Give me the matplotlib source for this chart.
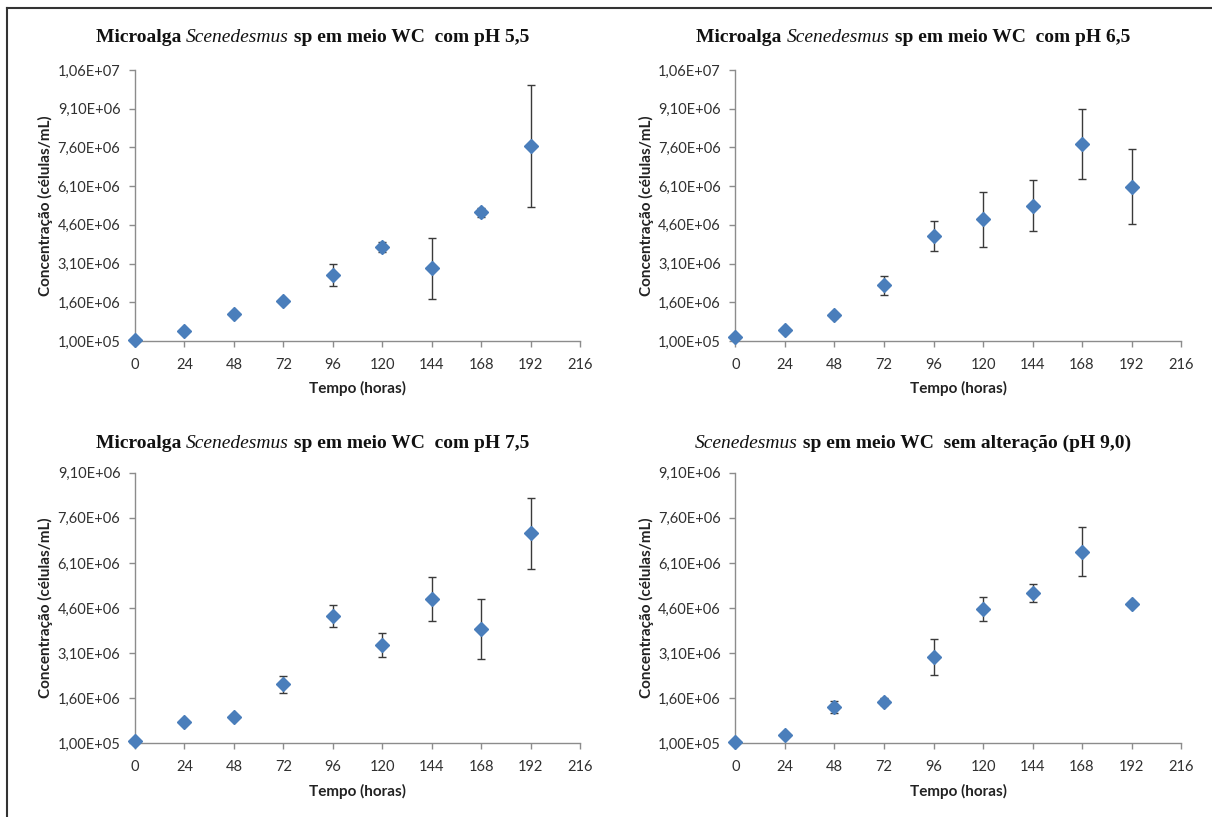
import matplotlib
matplotlib.use("Agg")
import matplotlib.pyplot as plt
from matplotlib.lines import Line2D
from matplotlib.ticker import FuncFormatter
import numpy as np

# ---------------- data ----------------
hours = [0, 24, 48, 72, 96, 120, 144, 168, 192]
x_ticks = [0, 24, 48, 72, 96, 120, 144, 168, 192, 216]

ph55_mean = [1.2e5, 4.75e5, 1.16e6, 1.65e6, 2.65e6, 3.75e6, 2.91e6, 5.08e6, 7.66e6]
ph55_err = [0.03e6, 0.05e6, 0.06e6, 0.08e6, 0.42e6, 0.20e6, 1.18e6, 0.16e6, 2.37e6]

ph65_mean = [2.55e5, 5.4e5, 1.10e6, 2.26e6, 4.17e6, 4.81e6, 5.35e6, 7.73e6, 6.07e6]
ph65_err = [0.05e6, 0.06e6, 0.10e6, 0.36e6, 0.57e6, 1.08e6, 1.00e6, 1.36e6, 1.45e6]

ph75_mean = [1.9e5, 8.2e5, 9.8e5, 2.06e6, 4.34e6, 3.38e6, 4.91e6, 3.91e6, 7.08e6]
ph75_err = [0.03e6, 0.05e6, 0.06e6, 0.28e6, 0.36e6, 0.40e6, 0.73e6, 0.99e6, 1.18e6]

ph90_mean = [1.55e5, 3.7e5, 1.30e6, 1.49e6, 2.98e6, 4.57e6, 5.10e6, 6.47e6, 4.73e6]
ph90_err = [0.03e6, 0.05e6, 0.20e6, 0.13e6, 0.60e6, 0.41e6, 0.30e6, 0.81e6, 0.08e6]

y_ticks_top = [1.0e5, 1.6e6, 3.1e6, 4.6e6, 6.1e6, 7.6e6, 9.1e6, 1.06e7]
y_ticks_bottom = [1.0e5, 1.6e6, 3.1e6, 4.6e6, 6.1e6, 7.6e6, 9.1e6]

titles = [
    ("Microalga ", "Scenedesmus", " sp em meio WC  com pH 5,5"),
    ("Microalga ", "Scenedesmus", " sp em meio WC  com pH 6,5"),
    ("Microalga ", "Scenedesmus", " sp em meio WC  com pH 7,5"),
    ("", "Scenedesmus", " sp em meio WC  sem alteração (pH 9,0)"),
]
x_label = "Tempo (horas)"
y_label = "Concentração (células/mL)"

# ---------------- layout ----------------
W, H = 1212, 817
fig = plt.figure(figsize=(W / 100, H / 100), dpi=100)
fig.patch.set_facecolor("white")

# axes rectangles in pixels: (left, right, top, bottom)
panels_px = [
    (135, 580, 70, 341),
    (735.5, 1181, 70, 341),
    (135, 580, 472.7, 743.3),
    (735.5, 1181, 472.7, 743.3),
]
means = [ph55_mean, ph65_mean, ph75_mean, ph90_mean]
errs = [ph55_err, ph65_err, ph75_err, ph90_err]
yticks_list = [y_ticks_top, y_ticks_top, y_ticks_bottom, y_ticks_bottom]
title_y_px = [37, 37, 443, 443]

AX_COLOR = "#8c8c8c"
TXT_COLOR = "#303030"
MARK_COLOR = "#4a7ebb"
tick_font = "Lato"


def yfmt(v, pos):
    return f"{v:.2E}".replace(".", ",")


renderer = fig.canvas.get_renderer()

for i, (l, r, t, b) in enumerate(panels_px):
    ax = fig.add_axes([l / W, 1 - b / H, (r - l) / W, (b - t) / H])
    yt = yticks_list[i]
    ax.errorbar(hours, means[i], yerr=errs[i], fmt="none", ecolor="#3a3a3a",
                elinewidth=1.0, capsize=2.6, capthick=1.0, zorder=2, clip_on=False)
    ax.plot(hours, means[i], linestyle="none", marker="D", markersize=6.8,
            color=MARK_COLOR, markeredgecolor=MARK_COLOR, zorder=3, clip_on=False)
    ax.set_xlim(x_ticks[0], x_ticks[-1])
    ax.set_ylim(yt[0], yt[-1])
    ax.set_xticks(x_ticks)
    ax.set_yticks(yt)
    ax.yaxis.set_major_formatter(FuncFormatter(yfmt))
    for s in ["top", "right"]:
        ax.spines[s].set_visible(False)
    for s in ["left", "bottom"]:
        ax.spines[s].set_color(AX_COLOR)
        ax.spines[s].set_linewidth(1.0)
    ax.tick_params(axis="both", direction="out", length=4, width=1.0,
                   color=AX_COLOR, labelcolor=TXT_COLOR, labelsize=10.5)
    ax.tick_params(axis="y", pad=6.5)
    ax.tick_params(axis="x", pad=8)
    for lab in ax.get_xticklabels() + ax.get_yticklabels():
        lab.set_fontfamily(tick_font)
    ax.set_xlabel(x_label, fontsize=11, fontweight="bold", family=tick_font,
                  color="#222222", labelpad=7)
    ax.set_ylabel(y_label, fontsize=11, fontweight="bold", family=tick_font,
                  color="#222222", labelpad=3)
    ax.patch.set_alpha(0)

    # title built from pieces (mixed italic)
    pieces = titles[i]
    styles = [dict(style="normal", weight="bold"),
              dict(style="italic", weight="normal"),
              dict(style="normal", weight="bold")]
    fs = 14
    widths = []
    texts = []
    for txt, st in zip(pieces, styles):
        if txt == "":
            widths.append(0)
            texts.append(None)
            continue
        tobj = fig.text(0, 0, txt, family="Liberation Serif", fontsize=fs,
                        color="#111111", va="center", ha="left", **st)
        bb = tobj.get_window_extent(renderer=renderer)
        widths.append(bb.width)
        texts.append(tobj)
    total = sum(widths)
    center_px = (l + r) / 2 - 45
    xstart = center_px - total / 2
    for tobj, w in zip(texts, widths):
        if tobj is None:
            continue
        tobj.set_position((xstart / W, 1 - title_y_px[i] / H))
        xstart += w

# frame lines (top and left)
fig.add_artist(Line2D([7 / W, 1.0], [1 - 8 / H, 1 - 8 / H], color="#333333",
                      linewidth=1.5, transform=fig.transFigure))
fig.add_artist(Line2D([7 / W, 7 / W], [0.0, 1 - 8 / H], color="#333333",
                      linewidth=1.5, transform=fig.transFigure))

fig.savefig("out.png", dpi=100)
